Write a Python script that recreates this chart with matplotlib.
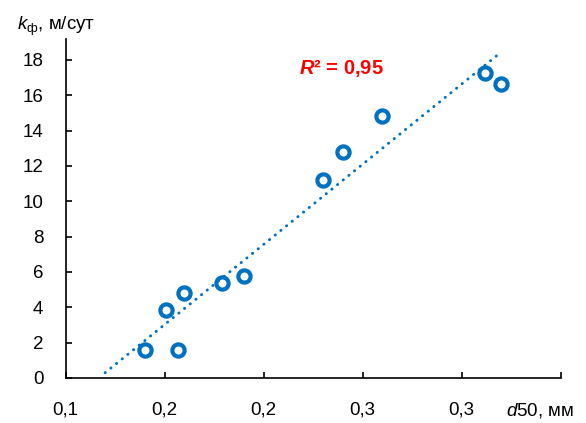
import numpy as np
import matplotlib
matplotlib.use("Agg")
import matplotlib.pyplot as plt

plt.rcParams["font.family"] = ["Liberation Sans", "DejaVu Sans"]
plt.rcParams["font.sans-serif"] = ["Liberation Sans"]
plt.rcParams["mathtext.fontset"] = "custom"
plt.rcParams["mathtext.rm"] = "Liberation Sans"
plt.rcParams["mathtext.it"] = "Liberation Sans:italic"
plt.rcParams["mathtext.bf"] = "Liberation Sans:bold"
plt.rcParams["mathtext.bfit"] = "Liberation Sans:italic:bold"

# d50, mm and filtration coefficient, m/day
d50 = [0.140, 0.157, 0.151, 0.160, 0.179, 0.190, 0.230, 0.240, 0.260, 0.312, 0.320]
k_f = [1.6, 1.6, 3.85, 4.8, 5.35, 5.75, 11.2, 12.8, 14.85, 17.25, 16.65]
r2_label = "0,95"

x_ticks = [0.10, 0.15, 0.20, 0.25, 0.30, 0.35]
x_ticklabels = ["0,1", "0,2", "0,2", "0,3", "0,3", ""]
y_ticks = [0, 2, 4, 6, 8, 10, 12, 14, 16, 18]

blue = "#0070C0"

fig = plt.figure(figsize=(5.86, 4.23), dpi=100)
ax = fig.add_axes([0.1118, 0.1064, 0.8447, 0.8021])

# linear trend, extended a bit backwards like in Excel
a, b = np.polyfit(d50, k_f, 1)
xt = np.array([min(d50) - 0.02, max(d50)])
ax.plot(xt, a * xt + b, color=blue, lw=2.1, linestyle=(0, (0.1, 2.4)),
        dash_capstyle="round", zorder=2)

ax.plot(d50, k_f, "o", ms=8.8, mew=3.0, mec=blue, mfc="none", zorder=3)

ax.set_xlim(0.10, 0.35)
ax.set_ylim(0, 19.2)
ax.set_xticks(x_ticks)
ax.set_xticklabels(x_ticklabels)
ax.set_yticks(y_ticks)

for s in ["top", "right"]:
    ax.spines[s].set_visible(False)
for s in ["left", "bottom"]:
    ax.spines[s].set_linewidth(1.2)
ax.tick_params(direction="in", length=4, width=1.2, labelsize=13.5)
ax.tick_params(axis="y", pad=16)
ax.tick_params(axis="x", pad=17)

fig.text(17 / 586, 1 - 26 / 423, r"$\mathit{k}_{\mathrm{ф}}$, м/сут", fontsize=13.5,
         va="center", ha="left")
fig.text(540 / 586, 1 - 410 / 423, r"$\mathit{d}$50, мм", fontsize=13.5,
         va="center", ha="center")
fig.text(299 / 586, 1 - 68 / 423, r"$\mathbfit{R}$² = " + r2_label,
         fontsize=14.5, fontweight="bold", color="red", va="center", ha="left")

fig.savefig("out.png", dpi=100)
